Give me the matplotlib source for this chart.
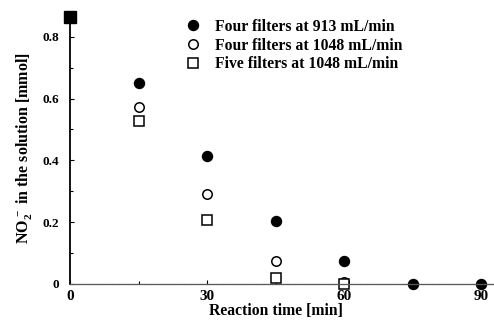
import matplotlib
matplotlib.use("Agg")
import matplotlib.pyplot as plt
from matplotlib.ticker import MultipleLocator

# Nitrite remaining in solution vs. reaction time
initial_time = [0]
initial_value = [0.864]

time_913_four = [15, 30, 45, 60, 75, 90]
no2_913_four = [0.651, 0.415, 0.205, 0.075, 0.0, 0.0]

time_1048_four = [15, 30, 45, 60]
no2_1048_four = [0.574, 0.290, 0.075, 0.005]

time_1048_five = [15, 30, 45, 60]
no2_1048_five = [0.528, 0.207, 0.018, 0.0]

series_labels = ["Four filters at 913 mL/min",
                 "Four filters at 1048 mL/min",
                 "Five filters at 1048 mL/min"]

x_ticks = [0, 30, 60, 90]
y_ticks = [0, 0.2, 0.4, 0.6, 0.8]
y_tick_labels = ["0", "0.2", "0.4", "0.6", "0.8"]

plt.rcParams["font.family"] = ["Liberation Serif", "DejaVu Serif"]
plt.rcParams["font.weight"] = "bold"
plt.rcParams["mathtext.fontset"] = "custom"
plt.rcParams["mathtext.rm"] = "Liberation Serif:bold"
plt.rcParams["mathtext.it"] = "Liberation Serif:bold"
plt.rcParams["mathtext.bf"] = "Liberation Serif:bold"

fig = plt.figure(figsize=(4.94, 3.22), dpi=100)
ax = fig.add_axes([70 / 494, 38 / 322, 424 / 494, 272 / 322])

ax.plot(initial_time, initial_value, "s", color="black", ms=8.5, clip_on=False)
ax.plot(time_913_four, no2_913_four, "o", color="black", ms=7.2,
        clip_on=False, label=series_labels[0])
ax.plot(time_1048_four, no2_1048_four, "o", mfc="white", mec="black",
        mew=1.1, ms=6.8, clip_on=False, label=series_labels[1])
ax.plot(time_1048_five, no2_1048_five, "s", mfc="white", mec="black",
        mew=1.1, ms=6.8, clip_on=False, label=series_labels[2])

ax.set_xlim(0, 92.8)
ax.set_ylim(0, 0.88)

for s in ["top", "right"]:
    ax.spines[s].set_visible(False)
ax.spines["left"].set_linewidth(1.3)
ax.spines["bottom"].set_linewidth(0.9)
ax.spines["bottom"].set_color("0.35")
ax.spines["bottom"].set_linestyle((0, (1.2, 0.6)))

ax.set_xticks(x_ticks)
ax.xaxis.set_minor_locator(MultipleLocator(15))
ax.set_yticks(y_ticks)
ax.set_yticklabels(y_tick_labels)
ax.yaxis.set_minor_locator(MultipleLocator(0.1))
ax.tick_params(axis="both", which="both", direction="in", labelsize=9.5)
ax.tick_params(axis="y", which="major", length=3, width=0.8, pad=8)
ax.tick_params(axis="y", which="minor", length=2, width=0.8)
ax.tick_params(axis="x", which="major", length=3, width=0.8, pad=4,
               labelsize=11)
ax.tick_params(axis="x", which="minor", length=2, width=0.8)

ax.set_xlabel("Reaction time [min]", fontsize=11.3, fontweight="bold",
              labelpad=2)
ax.xaxis.set_label_coords(0.486, -0.1)
ax.xaxis.label.set_verticalalignment("center")
ax.set_ylabel(r"NO$_2^{\,-}$ in the solution [mmol]", fontsize=11.5,
              fontweight="bold", labelpad=6)

leg = ax.legend(loc="upper left", bbox_to_anchor=(0.25, 1.01), frameon=False,
                fontsize=11.3, handlelength=1.0, handletextpad=0.9,
                labelspacing=0.18, borderaxespad=0.2)

fig.savefig("out.png", dpi=100)
